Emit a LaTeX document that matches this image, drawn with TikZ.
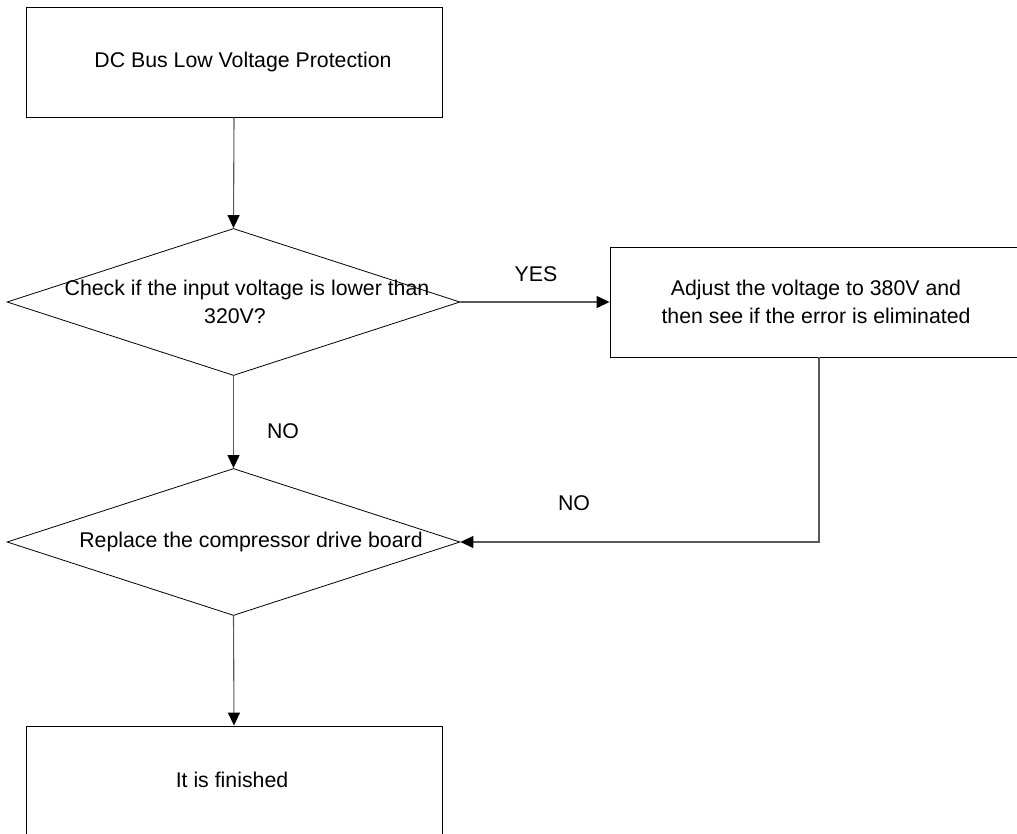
\documentclass[tikz,border=0pt]{standalone}
\usepackage{fontspec}
\setmainfont{Liberation Sans}
\usetikzlibrary{arrows.meta,shapes.geometric}
\begin{document}
\begin{tikzpicture}[x=1pt,y=-1pt,
  every node/.style={font=\fontsize{21.3}{28}\selectfont, text=black},
  procbox/.style={draw=black, line width=0.9pt, rectangle, inner sep=0pt},
  decision/.style={draw=black, line width=0.8pt, diamond, inner sep=0pt,
    minimum width=453pt, minimum height=147pt, shape aspect=3.08},
  flow/.style={draw=black!65, line width=1.1pt,
    -{Triangle[length=13pt,width=12pt,fill=black,color=black]}},
  lbl/.style={inner sep=0pt}
]
\useasboundingbox (0,0) rectangle (1017,834);
\clip (0,0) rectangle (1017,834);

% process boxes
\node[procbox, minimum width=416pt, minimum height=110pt] (start) at (234,62) {};
\node[lbl] at (243,62) {DC Bus Low Voltage Protection};

\node[procbox, minimum width=418pt, minimum height=110pt] (adjust) at (819,302) {};
\node[lbl, align=center] at (816,302) {Adjust the voltage to 380V and\\then see if the error is eliminated};

\node[procbox, minimum width=416pt, minimum height=130pt] (done) at (234,791) {};
\node[lbl] at (232,780) {It is finished};

% decisions
\node[decision] (check) at (233.5,302) {};
\node[lbl, align=center] at (247,302) {Check if the input voltage is lower than\\320V?\hspace*{24pt}};

\node[decision] (replace) at (233.5,542) {};
\node[lbl] at (251,542) {Replace the compressor drive board};

% connectors
\draw[flow] (start.south) -- (check.north);
\draw[flow] (check.east) -- (adjust.west);
\draw[flow] (check.south) -- (replace.north);
\draw[flow] (adjust.south) |- (replace.east);
\draw[flow] (replace.south) -- (done.north);

% branch labels
\node[lbl] at (536,274) {YES};
\node[lbl] at (283,431) {NO};
\node[lbl] at (574,503) {NO};
\end{tikzpicture}
\end{document}
